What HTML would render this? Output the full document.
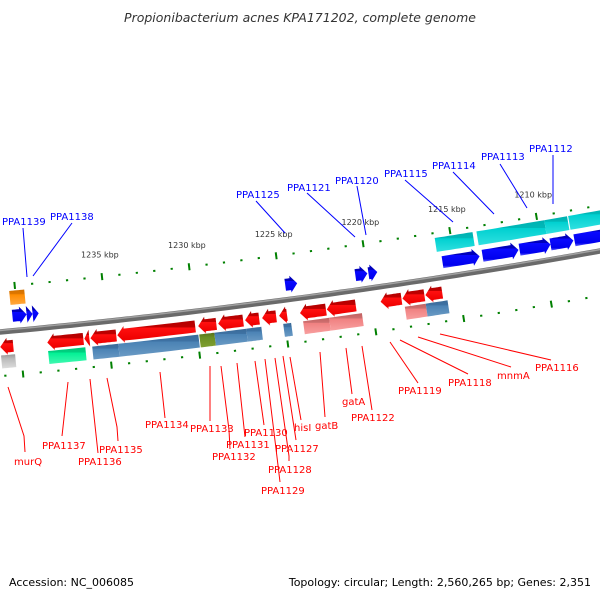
<!DOCTYPE html>
<html><head><meta charset="utf-8"><style>
body{margin:0;background:#fff;}
svg{display:block;font-family:"DejaVu Sans","Liberation Sans",sans-serif;}
</style></head><body>
<svg id="map" width="600" height="600" viewBox="0 0 600 600" xmlns="http://www.w3.org/2000/svg">
<defs>
<linearGradient id="gRed" x1="0" y1="0" x2="0" y2="1"><stop offset="0" stop-color="#b00000"/><stop offset="0.3" stop-color="#c00000"/><stop offset="0.32" stop-color="#ff1010"/><stop offset="0.85" stop-color="#ee0000"/><stop offset="1" stop-color="#ff8080"/></linearGradient>
<linearGradient id="gBlue" x1="0" y1="0" x2="0" y2="1"><stop offset="0" stop-color="#0000c0"/><stop offset="0.3" stop-color="#0000b8"/><stop offset="0.32" stop-color="#0a0aff"/><stop offset="0.85" stop-color="#0000ee"/><stop offset="1" stop-color="#6060ff"/></linearGradient>
<linearGradient id="gCyan" x1="0" y1="0" x2="0" y2="1"><stop offset="0" stop-color="#00b0b0"/><stop offset="0.3" stop-color="#00b8b8"/><stop offset="0.32" stop-color="#00d0d0"/><stop offset="1" stop-color="#30e0e0"/></linearGradient>
<linearGradient id="gOrange" x1="0" y1="0" x2="0" y2="1"><stop offset="0" stop-color="#d07000"/><stop offset="0.3" stop-color="#e07800"/><stop offset="0.32" stop-color="#ff8c00"/><stop offset="1" stop-color="#ffa840"/></linearGradient>
<linearGradient id="gGreen" x1="0" y1="0" x2="0" y2="1"><stop offset="0" stop-color="#00c878"/><stop offset="0.3" stop-color="#00d080"/><stop offset="0.32" stop-color="#00f094"/><stop offset="1" stop-color="#40f8b0"/></linearGradient>
<linearGradient id="gSteel" x1="0" y1="0" x2="0" y2="1"><stop offset="0" stop-color="#3a6a98"/><stop offset="0.3" stop-color="#3e72a4"/><stop offset="0.32" stop-color="#4a82b4"/><stop offset="1" stop-color="#6a9ac4"/></linearGradient>
<linearGradient id="gOlive" x1="0" y1="0" x2="0" y2="1"><stop offset="0" stop-color="#587018"/><stop offset="0.32" stop-color="#6b8e23"/><stop offset="1" stop-color="#80a030"/></linearGradient>
<linearGradient id="gPink" x1="0" y1="0" x2="0" y2="1"><stop offset="0" stop-color="#c06060"/><stop offset="0.3" stop-color="#d07070"/><stop offset="0.32" stop-color="#f08080"/><stop offset="1" stop-color="#f8a0a0"/></linearGradient>
<linearGradient id="gGray" x1="0" y1="0" x2="0" y2="1"><stop offset="0" stop-color="#999"/><stop offset="0.32" stop-color="#bbb"/><stop offset="1" stop-color="#ddd"/></linearGradient>
</defs>
<text x="300" y="22" text-anchor="middle" font-size="12.5" font-style="italic" fill="#333">Propionibacterium acnes KPA171202, complete genome</text>
<g id="layer"></g>
<g font-size="10" fill="#0000ff" stroke="none">
<text x="2" y="225">PPA1139</text><text x="50" y="220">PPA1138</text><text x="236" y="198">PPA1125</text><text x="287" y="191">PPA1121</text><text x="335" y="184">PPA1120</text><text x="384" y="177">PPA1115</text><text x="432" y="169">PPA1114</text><text x="481" y="160">PPA1113</text><text x="529" y="152">PPA1112</text>
</g>
<g stroke="#0000ff" stroke-width="1" fill="none">
<line x1="23" y1="228" x2="27" y2="277"/><line x1="72" y1="223" x2="33" y2="276"/><line x1="256" y1="201" x2="285" y2="233"/><line x1="307" y1="193" x2="355" y2="237"/><line x1="357" y1="186" x2="366" y2="235"/><line x1="405" y1="180" x2="453" y2="222"/><line x1="453" y1="172" x2="494" y2="214"/><line x1="500" y1="164" x2="527" y2="208"/><line x1="553" y1="155" x2="553" y2="204"/>
</g>
<g font-size="10" fill="#ff0000">
<text x="14" y="465">murQ</text><text x="42" y="449">PPA1137</text><text x="78" y="465">PPA1136</text><text x="99" y="453">PPA1135</text><text x="145" y="428">PPA1134</text><text x="190" y="432">PPA1133</text><text x="212" y="460">PPA1132</text><text x="226" y="448">PPA1131</text><text x="244" y="436">PPA1130</text><text x="275" y="452">PPA1127</text><text x="268" y="473">PPA1128</text><text x="261" y="494">PPA1129</text><text x="294" y="431">hisI</text><text x="315" y="429">gatB</text><text x="342" y="405">gatA</text><text x="351" y="421">PPA1122</text><text x="398" y="394">PPA1119</text><text x="448" y="386">PPA1118</text><text x="497" y="379">mnmA</text><text x="535" y="371">PPA1116</text>
</g>
<g stroke="#ff0000" stroke-width="1" fill="none">
<polyline points="8,387 24,436 25,452"/><polyline points="68,382 62,436"/><polyline points="90,379 98,453"/><polyline points="107,378 117,427 118,441"/><polyline points="160,372 165,418"/><polyline points="210,366 210,421"/><polyline points="221,366 229,430 230,449"/><polyline points="237,363 245,437"/><polyline points="255,361 264,425"/><polyline points="265,359 277,457 280,482"/><polyline points="275,358 289,456 289,461"/><polyline points="283,356 296,440"/><polyline points="290,357 301,420"/><polyline points="320,352 325,417"/><polyline points="346,348 352,394"/><polyline points="362,346 372,410"/><polyline points="390,342 418,383"/><polyline points="400,340 468,374"/><polyline points="418,337 511,367"/><polyline points="440,334 551,360"/>
</g>
<text x="9" y="586" font-size="11" fill="#000">Accession: NC_006085</text>
<text x="591" y="586" font-size="11" fill="#000" text-anchor="end">Topology: circular; Length: 2,560,265 bp; Genes: 2,351</text>
</svg>
<script>
// Data (kbp)
const fwdStart = [1240.29,1239.48,1239.14,1224.71,1220.69,1219.94,1215.69,1213.39,1211.26,1209.48,1208.10];
const fwdEnd   = [1239.48,1239.14,1238.79,1224.02,1220.00,1219.43,1213.56,1211.32,1209.48,1208.16,1205.40];
const revStart = [1241.14,1238.47,1236.36,1236.02,1234.49,1229.89,1228.75,1227.22,1226.25,1225.28,1224.09,1222.56,1219.49,1218.24,1216.93];
const revEnd   = [1240.40,1236.42,1236.08,1234.55,1230.06,1228.86,1227.33,1226.42,1225.45,1224.83,1222.61,1220.91,1218.30,1216.99,1215.97];
const rnaStart = [1240.34,1215.92,1213.51,1209.60,1208.22];
const rnaEnd   = [1239.48,1213.74,1209.60,1208.28,1205.40];
const rnaColor = ['gOrange','gCyan','gCyan','gCyan','gCyan'];
const featStart = [1241.14,1238.47,1235.97,1234.49,1229.89,1229.03,1227.22,1225.11,1223.98,1222.50,1218.18,1216.99];
const featEnd   = [1240.34,1236.36,1234.49,1229.94,1229.03,1227.22,1226.36,1224.66,1222.50,1220.63,1216.99,1215.74];
const featColor = ['gGray','gGreen','gSteel','gSteel','gOlive','gSteel','gSteel','gSteel','gPink','gPink','gPink','gSteel'];
const tickKbp = [1241,1240,1239,1238,1237,1236,1235,1234,1233,1232,1231,1230,1229,1228,1227,1226,1225,1224,1223,1222,1221,1220,1219,1218,1217,1216,1215,1214,1213,1212,1211,1210,1209,1208,1207,1206,1205];
const majorLabels = [1235,1230,1225,1220,1215,1210];

const NS='http://www.w3.org/2000/svg';
const layer=document.getElementById('layer');
function fit(p1,p2,p3){const [ax,ay]=p1,[bx,by]=p2,[cx,cy]=p3;const d=2*(ax*(by-cy)+bx*(cy-ay)+cx*(ay-by));
const ux=((ax*ax+ay*ay)*(by-cy)+(bx*bx+by*by)*(cy-ay)+(cx*cx+cy*cy)*(ay-by))/d;
const uy=((ax*ax+ay*ay)*(cx-bx)+(bx*bx+by*by)*(ax-cx)+(cx*cx+cy*cy)*(bx-ax))/d;return [ux,uy,Math.hypot(ax-ux,ay-uy)];}
const [CX,CY,R]=fit([0,332],[300,298],[600,251]);
const tA=Math.atan2(277-CY,102-CX), tB=Math.atan2(214-CY,536-CX);
function ang(k){return tA+(1235-k)*(tB-tA)/25;}
function rad(off){return R-off;}
function pt(k,off){const a=ang(k),r=rad(off);return [CX+r*Math.cos(a),CY+r*Math.sin(a)];}
function mk(tag,attrs){const e=document.createElementNS(NS,tag);for(const k in attrs)e.setAttribute(k,attrs[k]);return e;}
function arcPts(k1,k2,off,n){const p=[];for(let i=0;i<=n;i++)p.push(pt(k1+(k2-k1)*i/n,off));return p;}
function shape(k1,k2,off,h,dir,fill,name){
  const kbpPerPx=25/Math.abs((tB-tA)*rad(off));
  const tipK=kbpPerPx*7;
  let bodyEnd=k2;
  const span=Math.abs(k2-k1);
  if(dir){bodyEnd = span>tipK? k2+(k1>k2?tipK:-tipK) : k1;}
  const top=arcPts(k1,bodyEnd,off+h/2,8), bot=arcPts(bodyEnd,k1,off-h/2,8);
  let pts=top.slice();
  if(dir){pts.push(pt(bodyEnd,off+h/2+2.5));pts.push(pt(k2,off));pts.push(pt(bodyEnd,off-h/2-2.5));}
  pts=pts.concat(bot);
  const el=mk('polygon',{points:pts.map(p=>p[0].toFixed(1)+','+p[1].toFixed(1)).join(' '),fill:'url(#'+fill+')'});
  
  
  layer.appendChild(el);
}
(function(){
  const p=arcPts(1243,1203,0,60);
  const b=mk('path',{d:'M'+p.map(q=>q[0].toFixed(1)+' '+q[1].toFixed(1)).join(' L'),stroke:'#6a6a6a',"stroke-width":5.5,fill:'none'});
  
  
  layer.appendChild(b);
  const p2=arcPts(1243,1203,1.5,60);
  const h=mk('path',{d:'M'+p2.map(q=>q[0].toFixed(1)+' '+q[1].toFixed(1)).join(' L'),stroke:'#a0a0a0',"stroke-width":1.5,fill:'none'});
  
  
  layer.appendChild(h);
})();
[45,-44].forEach(function(off){
  tickKbp.forEach(function(k){
    const major=k%5===0;
    const a=pt(k,off+(major?3.5:1)), b=pt(k,off-(major?3.5:1));
    const t=mk('line',{x1:a[0],y1:a[1],x2:b[0],y2:b[1],stroke:'#008000',"stroke-width":major?2:2.2});
    
    
    layer.appendChild(t);
  });
});
majorLabels.forEach(function(k){
  const p=pt(k,64);
  const t=mk('text',{x:p[0].toFixed(1),y:p[1].toFixed(1),"font-size":8,fill:'#333',"text-anchor":'middle'});
  t.textContent=k+' kbp';
  
  
  layer.appendChild(t);
});
rnaStart.forEach(function(s,i){shape(s,rnaEnd[i],33,14,0,rnaColor[i],'rna-feature');});
fwdStart.forEach(function(s,i){shape(s,fwdEnd[i],15,12,1,'gBlue','forward-gene');});
revStart.forEach(function(s,i){shape(revEnd[i],s,-15,12,1,'gRed','reverse-gene');});
featStart.forEach(function(s,i){shape(s,featEnd[i],-30,13,0,featColor[i],'gene-feature');});
</script>
</body></html>
